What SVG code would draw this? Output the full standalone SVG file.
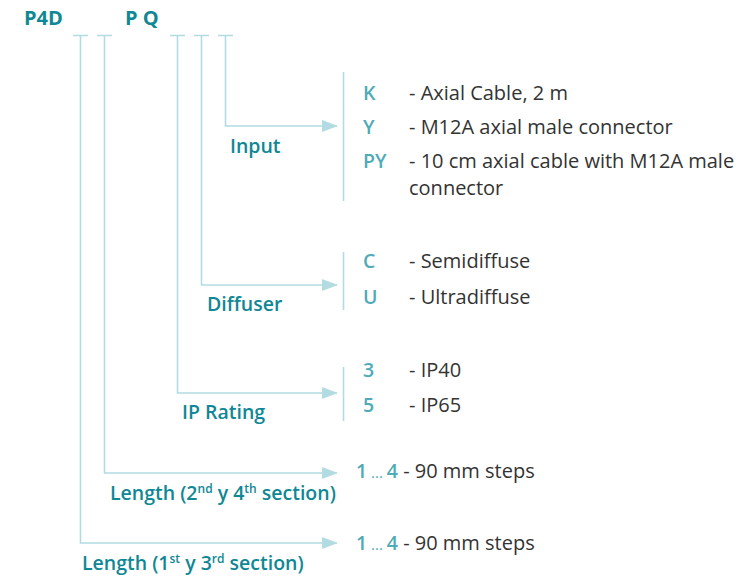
<svg xmlns="http://www.w3.org/2000/svg" width="756" height="580" viewBox="0 0 756 580">
<defs>
<marker id="arr" markerWidth="16" markerHeight="12" refX="15" refY="6" orient="auto" markerUnits="userSpaceOnUse">
<path d="M0,0 L16,6 L0,12 Z" fill="#b3dbe2"/>
</marker>
<style>
.ln{stroke:#b3dbe2;stroke-width:1.6;fill:none}
.ttl{font-family:"Open Sans",Lato,sans-serif;font-weight:700;font-size:20px;fill:#0f8795}
.lbl{font-family:"Open Sans",Lato,sans-serif;font-weight:600;font-size:19.5px;fill:#0f8795}
.code{font-family:"Open Sans",Lato,sans-serif;font-weight:600;font-size:19.5px;fill:#4eabb7}
.desc{font-family:"Open Sans",Lato,sans-serif;font-weight:400;font-size:20px;fill:#333333}
</style>
</defs>
<rect width="756" height="580" fill="#ffffff"/>
<g id="header">
<text class="ttl" x="24" y="25">P4D</text>
<text class="ttl" x="125" y="25">P Q</text>
</g>
<g id="connectors">
<path class="ln" d="M73,35.5 H88 M97,35.5 H112 M170,35.5 H185 M194,35.5 H209 M218,35.5 H233"/>
<path class="ln" d="M225.5,35.5 V126 H337" marker-end="url(#arr)"/>
<path class="ln" d="M201.5,35.5 V285 H337" marker-end="url(#arr)"/>
<path class="ln" d="M177.5,35.5 V393 H337" marker-end="url(#arr)"/>
<path class="ln" d="M104.5,35.5 V473 H337" marker-end="url(#arr)"/>
<path class="ln" d="M80.5,35.5 V543 H337" marker-end="url(#arr)"/>
<path class="ln" d="M343.5,72 V201 M343.5,252 V310 M343.5,367 V421"/>
</g>
<g id="input">
<text class="lbl" x="230" y="153">Input</text>
<text class="code" x="363" y="100">K</text>
<text class="desc" x="409" y="100">- Axial Cable, 2 m</text>
<text class="code" x="363" y="134">Y</text>
<text class="desc" x="409" y="134">- M12A axial male connector</text>
<text class="code" x="363" y="168">PY</text>
<text class="desc" x="409" y="168">- 10 cm axial cable with M12A male</text>
<text class="desc" x="409" y="195">connector</text>
</g>
<g id="diffuser">
<text class="lbl" x="207" y="311">Diffuser</text>
<text class="code" x="363" y="268">C</text>
<text class="desc" x="409" y="268">- Semidiffuse</text>
<text class="code" x="363" y="304">U</text>
<text class="desc" x="409" y="304">- Ultradiffuse</text>
</g>
<g id="ip-rating">
<text class="lbl" x="182" y="419">IP Rating</text>
<text class="code" x="363" y="377">3</text>
<text class="desc" x="409" y="377">- IP40</text>
<text class="code" x="363" y="412">5</text>
<text class="desc" x="409" y="412">- IP65</text>
</g>
<g id="length-2-4">
<text class="lbl" x="110" y="500">Length (2<tspan font-size="12" dy="-7">nd</tspan><tspan dy="7"> y 4</tspan><tspan font-size="12" dy="-7">th</tspan><tspan dy="7"> section)</tspan></text>
<text class="desc" x="356" y="478"><tspan class="code">1</tspan><tspan fill="#4eabb7" font-size="15"> ... </tspan><tspan class="code">4</tspan> - 90 mm steps</text>
</g>
<g id="length-1-3">
<text class="lbl" x="82" y="570">Length (1<tspan font-size="12" dy="-7">st</tspan><tspan dy="7"> y 3</tspan><tspan font-size="12" dy="-7">rd</tspan><tspan dy="7"> section)</tspan></text>
<text class="desc" x="356" y="550"><tspan class="code">1</tspan><tspan fill="#4eabb7" font-size="15"> ... </tspan><tspan class="code">4</tspan> - 90 mm steps</text>
</g>
</svg>
